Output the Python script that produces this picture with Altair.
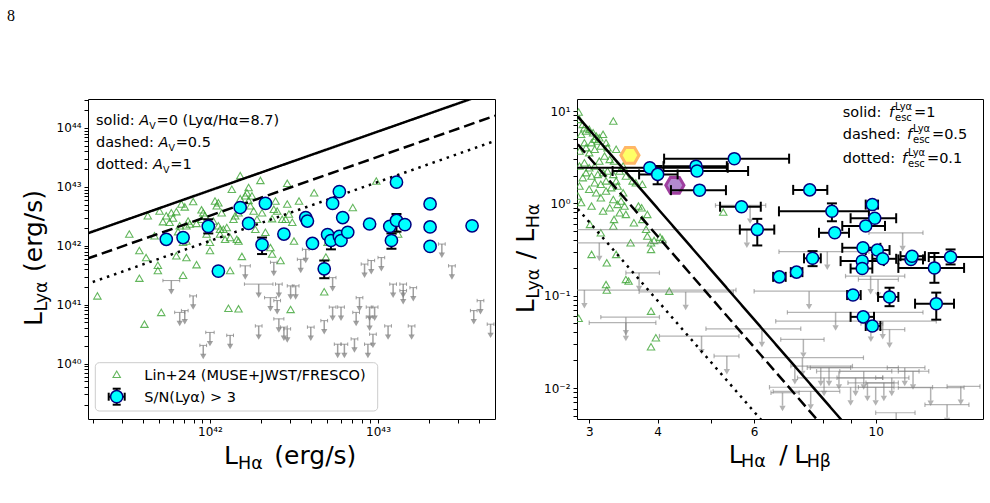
import altair as alt
import numpy as np
import pandas as pd

FONT = "DejaVu Sans"
CYAN = "#00ffff"
NAVY = "#000080"
GREEN = "#3da535"
GRAY = "#808080"

# ---------------------------------------------------------------------------
# Left panel: L(Lya) versus L(Ha), values are log10(L / erg s^-1)
# ---------------------------------------------------------------------------
# Lin+24 (MUSE+JWST/FRESCO) comparison sample
lin_lha_log = [41.33, 41.52, 41.58, 41.62, 41.58, 41.63, 41.67, 41.69, 41.69, 41.70,
               41.72, 41.74, 41.76, 41.77, 41.78, 41.80, 41.80, 41.81, 41.82, 41.83,
               41.84, 41.84, 41.85, 41.86, 41.86, 41.86, 41.87, 41.88, 41.90, 41.92,
               41.92, 41.95, 41.95, 41.96, 41.97, 41.98, 42.00, 42.00, 42.02, 42.03,
               42.04, 42.05, 42.05, 42.06, 42.06, 42.07, 42.08, 42.09, 42.10, 42.12,
               42.12, 42.13, 42.14, 42.15, 42.16, 42.17, 42.17, 42.18, 42.18, 42.19,
               42.21, 42.22, 42.23, 42.23, 42.24, 42.25, 42.26, 42.27, 42.28, 42.30,
               42.31, 42.32, 42.33, 42.36, 42.37, 42.37, 42.38, 42.39, 42.40, 42.42,
               42.43, 42.45, 42.46, 42.46, 42.47, 42.49, 42.50, 42.53, 42.62, 42.70,
               42.85, 42.99, 43.12, 42.68, 41.61, 41.71, 42.11, 42.17, 42.48, 42.69]
lin_llya_log = [41.15, 42.20, 41.92, 41.80, 41.45, 42.51, 42.17, 41.67, 41.58, 42.59,
                42.41, 42.51, 42.40, 42.56, 42.47, 42.58, 41.83, 42.24, 42.34, 42.71,
                42.06, 41.50, 42.66, 42.34, 42.08, 41.80, 42.42, 42.37, 42.75, 42.38,
                41.68, 42.61, 42.45, 42.56, 42.51, 42.20, 41.92, 42.06, 42.42, 42.76,
                42.68, 42.73, 42.34, 42.28, 42.20, 42.56, 42.28, 42.11, 42.31, 42.14,
                41.58, 42.96, 42.45, 42.51, 42.11, 42.56, 42.08, 42.80, 43.19, 41.82,
                42.85, 42.90, 42.77, 42.99, 42.68, 42.85, 42.59, 42.28, 42.45, 43.11,
                42.56, 42.73, 42.23, 41.97, 42.46, 41.86, 42.62, 42.76, 42.59, 41.75,
                42.45, 42.45, 43.06, 42.71, 42.54, 42.40, 42.08, 42.76, 42.90, 42.06,
                42.65, 43.10, 42.20, 41.22, 40.67, 40.87, 40.94, 40.93, 40.92, 41.81]

# Lya upper limits (S/N < 3)
ul_lha_log = [41.77, 41.90, 41.82, 41.85, 42.00, 41.96, 42.12, 42.21, 42.29, 42.36,
              42.41, 42.40, 42.41, 42.44, 42.46, 42.48, 42.51, 42.29, 42.38, 42.54,
              42.57, 42.60, 42.68, 42.73, 42.73, 42.78, 42.76, 42.80, 42.86, 42.87,
              42.89, 42.92, 42.96, 42.95, 42.95, 42.97, 42.94, 42.98, 43.02, 43.06,
              43.09, 43.15, 43.15, 43.21, 43.20, 43.38, 43.44, 43.57, 43.61, 43.67]
ul_llya_log = [41.41, 41.15, 40.87, 40.90, 40.53, 40.31, 40.48, 41.66, 41.35, 41.12,
               41.35, 41.07, 40.76, 40.62, 40.59, 41.32, 41.32, 40.64, 41.72, 41.77,
               41.94, 40.62, 40.73, 41.46, 40.96, 40.96, 40.33, 40.33, 40.42, 40.87,
               41.12, 41.69, 41.75, 40.96, 40.79, 40.50, 40.33, 40.96, 41.80, 40.64,
               41.35, 41.35, 41.24, 41.29, 40.64, 42.03, 41.66, 40.90, 41.07, 40.67]
ul_lha_err_dex = [0.05, 0.02, 0.03, 0.02, 0.025, 0.02, 0.02, 0.03, 0.085, 0.035,
                  0.02, 0.02, 0.03, 0.02, 0.02, 0.02, 0.02, 0.02, 0.02, 0.02,
                  0.02, 0.02, 0.02, 0.02, 0.02, 0.02, 0.02, 0.02, 0.02, 0.02,
                  0.02, 0.02, 0.02, 0.02, 0.02, 0.02, 0.02, 0.02, 0.02, 0.02,
                  0.02, 0.02, 0.02, 0.02, 0.02, 0.02, 0.02, 0.02, 0.02, 0.02]

# Lya detections, S/N(Lya) > 3
det_lha_log = [41.74, 41.84, 41.99, 42.18, 42.23, 42.33, 42.31, 42.05, 42.44, 42.57,
               42.58, 42.61, 42.70, 42.72, 42.68, 42.73, 42.77, 42.79, 42.77, 42.78,
               42.82, 42.95, 43.07, 43.11, 43.16, 43.08, 43.11, 43.31, 43.31, 43.31, 43.56]
det_llya_log = [42.11, 42.14, 42.33, 42.65, 42.38, 42.72, 42.02, 41.57, 42.20, 42.48,
                42.42, 42.04, 42.19, 42.09, 41.61, 42.72, 42.92, 42.48, 42.16, 42.09,
                42.23, 42.37, 42.33, 42.43, 42.36, 42.09, 43.08, 42.71, 42.32, 41.99, 42.34]
det_llya_err_lo = [0.04, 0.04, 0.12, 0.04, 0.04, 0.04, 0.16, 0.04, 0.04, 0.04,
                   0.04, 0.04, 0.04, 0.15, 0.16, 0.04, 0.04, 0.04, 0.04, 0.04,
                   0.04, 0.04, 0.04, 0.19, 0.04, 0.14, 0.04, 0.04, 0.04, 0.04, 0.04]
det_llya_err_hi = [0.04, 0.04, 0.12, 0.04, 0.04, 0.04, 0.12, 0.04, 0.04, 0.04,
                   0.04, 0.04, 0.04, 0.05, 0.14, 0.04, 0.04, 0.04, 0.04, 0.04,
                   0.04, 0.04, 0.04, 0.11, 0.04, 0.12, 0.04, 0.04, 0.04, 0.04, 0.04]

# ---------------------------------------------------------------------------
# Right panel: Lya/Ha versus the Balmer decrement Ha/Hb
# ---------------------------------------------------------------------------
lin_bd = [2.87, 2.88, 2.92, 2.94, 2.90, 2.96, 3.00, 3.05, 3.09, 3.07,
          3.13, 3.18, 3.11, 3.03, 2.94, 2.96, 2.88, 3.00, 3.07, 3.15,
          3.22, 3.24, 3.32, 3.36, 2.88, 2.94, 3.00, 3.07, 3.13, 3.20,
          3.27, 3.33, 2.96, 2.92, 3.03, 3.11, 3.18, 3.24, 3.32, 3.41,
          3.46, 3.50, 3.60, 3.65, 3.75, 3.07, 3.15, 3.22, 3.36, 3.00,
          3.09, 3.15, 3.22, 3.29, 3.38, 3.46, 3.32, 3.43, 3.48, 3.38,
          3.27, 3.03, 3.18, 3.41, 3.33, 3.50, 3.32, 3.01, 3.15, 3.62,
          3.69, 3.74, 3.83, 3.75, 3.81, 3.89, 3.89, 4.08, 3.57, 3.36,
          3.03, 3.50, 4.20, 5.27, 2.88, 2.86, 2.90,
          3.23, 3.83, 3.94, 4.04, 3.22, 3.23, 3.54, 2.87,
          3.89, 3.97, 3.89]
lin_ratio = [9.75, 8.12, 7.17, 6.59, 5.59, 6.07, 6.33, 5.82, 5.36, 4.94,
             5.14, 5.59, 4.73, 4.54, 4.54, 4.01, 3.69, 3.54, 3.85, 4.18,
             4.54, 4.01, 7.79, 3.85, 2.54, 2.75, 2.43, 2.54, 2.87, 3.25,
             2.99, 2.87, 2.15, 1.90, 1.98, 2.06, 2.15, 2.24, 2.06, 2.24,
             2.54, 1.98, 1.75, 1.67, 1.61, 1.67, 1.61, 1.75, 1.75, 1.42,
             1.30, 1.15, 1.36, 1.48, 1.54, 1.30, 1.10, 1.06, 0.935, 0.975,
             0.897, 0.935, 0.826, 0.792, 0.670, 0.759, 0.568, 0.592, 0.481, 0.617,
             0.935, 0.897, 0.759, 0.670, 0.523, 0.374, 0.317, 0.407, 0.374, 0.280,
             0.280, 0.150, 0.112, 0.805, 1.54, 1.20, 1.02,
             0.227, 0.442, 0.397, 0.431, 0.132, 0.115, 0.144, 0.057,
             0.068, 0.035, 0.028]

ul_bd = [3.13, 5.90, 5.82, 11.2, 8.16, 9.79, 10.1, 3.70, 2.94, 4.50,
         7.56, 3.50, 3.50, 4.81, 5.35, 6.20, 7.38, 6.76, 8.45, 10.3,
         10.6, 9.8, 7.12, 7.94, 8.22, 8.57, 8.05, 9.0, 9.19, 9.51,
         9.66, 10.0, 10.35, 10.7, 11.3, 11.7, 12.6, 13.5, 14.3, 7.61,
         10.9, 7.35]
ul_bd_lo = [2.60, 5.10, 2.50, 9.72, 6.66, 8.81, 9.3, 3.50, 2.50, 3.70,
            6.0, 3.15, 3.00, 4.03, 5.07, 4.90, 6.71, 6.44, 6.90, 6.57,
            9.9, 9.4, 7.0, 7.5, 7.6, 7.8, 7.2, 6.4, 8.5, 8.6,
            8.9, 9.3, 9.6, 10.0, 10.5, 11.0, 11.0, 12.3, 13.5, 6.5,
            10.0, 6.2]
ul_bd_hi = [4.14, 6.30, 6.00, 12.2, 9.72, 11.3, 11.0, 4.03, 5.56, 5.50,
            9.0, 4.03, 3.97, 5.63, 5.63, 7.30, 8.05, 7.25, 12.2, 12.9,
            11.3, 10.3, 9.07, 11.0, 9.0, 12.0, 10.3, 12.7, 10.3, 10.7,
            10.8, 10.8, 11.0, 11.5, 12.3, 12.5, 14.5, 14.8, 15.5, 8.6,
            11.8, 9.5]
ul_ratio = [0.374, 0.95, 0.52, 0.48, 0.30, 0.163, 0.150, 0.177, 0.115, 0.110,
            0.112, 0.0586, 0.051, 0.0365, 0.0222, 0.0438, 0.0336, 0.0089, 0.066, 0.053,
            0.043, 0.050, 0.0173, 0.0166, 0.0166, 0.0152, 0.0129, 0.0102, 0.0129, 0.0152,
            0.0114, 0.0102, 0.0114, 0.0129, 0.0166, 0.0152, 0.0101, 0.0066, 0.0104, 0.0092,
            0.0054, 0.0213]

det_bd = [3.87, 4.00, 4.70, 4.72, 4.77, 5.52, 5.69, 6.08, 7.58, 8.32,
          9.86, 9.96, 9.59, 8.42, 9.48, 10.07, 9.45, 9.45, 10.3, 11.6,
          11.65, 12.8, 13.7, 7.67, 7.17, 6.67, 9.09, 10.6, 12.9, 9.49, 9.86]
det_bd_lo = [2.55, 3.70, 4.10, 3.31, 4.23, 4.11, 5.20, 5.65, 7.07, 6.66,
             9.59, 9.00, 8.69, 7.88, 8.69, 9.59, 8.63, 9.00, 9.86, 11.0,
             11.1, 11.0, 12.5, 7.40, 7.00, 6.50, 8.87, 10.1, 11.8, 9.00, 9.59]
det_bd_hi = [5.37, 4.35, 5.35, 5.85, 5.33, 6.95, 6.17, 6.53, 8.16, 9.72,
             10.1, 10.9, 10.4, 8.94, 10.2, 10.6, 10.35, 9.86, 10.9, 12.2,
             12.3, 14.5, 15.9, 7.94, 7.35, 6.85, 9.39, 11.0, 13.9, 9.93, 10.2]
det_ratio = [2.43, 2.06, 2.53, 2.24, 1.39, 3.05, 0.92, 0.52, 1.40, 0.82,
             0.97, 0.69, 0.57, 0.48, 0.33, 0.312, 0.237, 0.197, 0.251, 0.247,
             0.268, 0.200, 0.262, 0.254, 0.180, 0.160, 0.1016, 0.097, 0.082, 0.059, 0.047]
det_ratio_lo = [2.30, 1.61, 2.40, 2.10, 1.32, 2.90, 0.87, 0.35, 1.33, 0.64,
                0.92, 0.66, 0.54, 0.46, 0.31, 0.295, 0.225, 0.187, 0.238, 0.235,
                0.255, 0.138, 0.218, 0.209, 0.171, 0.152, 0.096, 0.077, 0.055, 0.054, 0.043]
det_ratio_hi = [2.55, 2.54, 2.70, 2.40, 1.46, 3.20, 0.97, 0.68, 1.47, 1.00,
                1.02, 0.72, 0.60, 0.50, 0.35, 0.33, 0.25, 0.207, 0.264, 0.26,
                0.28, 0.29, 0.317, 0.304, 0.189, 0.168, 0.107, 0.122, 0.108, 0.064, 0.051]

# two individual sources shown as hexagons
hex_a_bd, hex_a_ratio = [3.56], [3.31]
hex_b_bd, hex_b_ratio = [4.30], [1.57]

# Case-B intrinsic ratios and Calzetti attenuation curve
LYA_HA_INTRINSIC = 8.7
BALMER_INTRINSIC = 2.86
K_LYA, K_HA, K_HB, R_V = 12.0, 3.33, 4.60, 4.05
AV_VALUES = [0.0, 0.5, 1.0]
FESC_VALUES = [1.0, 0.5, 0.1]
LINE_STYLES = ["solid", "dashed", "dotted"]

W_L, W_R, H = 407, 406, 320
SUP = "⁰¹²³⁴⁵⁶⁷⁸⁹"


def sup(n):
    return "".join(SUP[int(c)] if c.isdigit() else "⁻" for c in str(n))


def log_ticks(exps, lo, hi):
    vals = [float(f"{k}e{e}") for e in exps for k in range(1, 10)]
    return [v for v in vals if lo <= v <= hi]


def label_expr(mapping):
    parts = [f"datum.value == {v!r} ? '{t}'" for v, t in mapping.items()]
    return " : ".join(parts) + " : ''"


def make_axis(values, mapping, size):
    return alt.Axis(values=values, labelExpr=label_expr(mapping), title=None,
                    grid=False, domain=False, tickSize=4, tickColor="black",
                    labelColor="black", labelFont=FONT, labelFontSize=size,
                    labelPadding=3, labelOverlap=False, labelFlush=False)


# ---- scales and axes ----
XL_DOM = [1.88e41, 4.97e43]
YL_DOM = [1.15e39, 3.1e44]
XR_DOM = [2.85, 15.7]
YR_DOM = [0.00462, 13.5]

XS_L = alt.Scale(type="log", domain=XL_DOM, nice=False)
YS_L = alt.Scale(type="log", domain=YL_DOM, nice=False)
XS_R = alt.Scale(type="log", domain=XR_DOM, nice=False)
YS_R = alt.Scale(type="log", domain=YR_DOM, nice=False)

AX_L_X = make_axis(log_ticks(range(41, 44), *XL_DOM),
                   {float(f"1e{e}"): "10" + sup(e) for e in (42, 43)}, 12)
AX_L_Y = make_axis(log_ticks(range(39, 45), *YL_DOM),
                   {float(f"1e{e}"): "10" + sup(e) for e in range(40, 45)}, 12)
AX_R_X = make_axis([3.0, 4.0, 5.0, 6.0, 7.0, 8.0, 9.0, 10.0],
                   {3.0: "3", 4.0: "4", 6.0: "6", 10.0: "10"}, 12)
AX_R_Y = make_axis(log_ticks(range(-3, 2), *YR_DOM),
                   {float(f"1e{e}"): "10" + sup(e) for e in range(-2, 2)}, 12)


def XL(f="x"):
    return alt.X(f, type="quantitative", scale=XS_L, axis=AX_L_X)


def YL(f="y"):
    return alt.Y(f, type="quantitative", scale=YS_L, axis=AX_L_Y)


def XR(f="x"):
    return alt.X(f, type="quantitative", scale=XS_R, axis=AX_R_X)


def YR(f="y"):
    return alt.Y(f, type="quantitative", scale=YS_R, axis=AX_R_Y)


def piece(s, x, y, size=14.5, style="normal", angle=0, font=FONT):
    return alt.Chart(pd.DataFrame({"t": [s]})).mark_text(
        font=font, fontSize=size, fontStyle=style, angle=angle, align="left",
        baseline="alphabetic", color="black").encode(
        x=alt.value(x), y=alt.value(y), text=alt.Text("t:N"))


def upper_limits(df, X, Y, cap, head, width, opacity):
    base = alt.Chart(df)
    return [
        base.mark_rule(color=GRAY, strokeWidth=width, opacity=opacity, clip=True)
            .encode(x=X("xlo"), x2=alt.X2("xhi"), y=Y()),
        base.mark_point(shape="stroke", angle=90, size=cap, strokeWidth=width,
                        color=GRAY, opacity=opacity, clip=True).encode(x=X("xlo"), y=Y()),
        base.mark_point(shape="stroke", angle=90, size=cap, strokeWidth=width,
                        color=GRAY, opacity=opacity, clip=True).encode(x=X("xhi"), y=Y()),
        base.mark_rule(color=GRAY, strokeWidth=1.5, opacity=opacity, clip=True)
            .encode(x=X(), y=Y(), y2=alt.Y2("yshaft")),
        base.mark_point(shape="triangle-down", filled=True, size=head, color=GRAY,
                        opacity=opacity, clip=True).encode(x=X(), y=Y("yhead")),
    ]


def error_bars(df, X, Y, vertical, horizontal, cap):
    base = alt.Chart(df)
    out = []
    if horizontal:
        out += [
            base.mark_rule(color="black", strokeWidth=2, clip=True)
                .encode(x=X("xlo"), x2=alt.X2("xhi"), y=Y()),
            base.mark_point(shape="stroke", angle=90, size=cap, strokeWidth=2,
                            color="black", opacity=1, clip=True).encode(x=X("xlo"), y=Y()),
            base.mark_point(shape="stroke", angle=90, size=cap, strokeWidth=2,
                            color="black", opacity=1, clip=True).encode(x=X("xhi"), y=Y()),
        ]
    if vertical:
        out += [
            base.mark_rule(color="black", strokeWidth=2, clip=True)
                .encode(x=X(), y=Y("ylo"), y2=alt.Y2("yhi")),
            base.mark_point(shape="stroke", size=cap, strokeWidth=2,
                            color="black", opacity=1, clip=True).encode(x=X(), y=Y("ylo")),
            base.mark_point(shape="stroke", size=cap, strokeWidth=2,
                            color="black", opacity=1, clip=True).encode(x=X(), y=Y("yhi")),
        ]
    return out


dash_scale = alt.Scale(domain=LINE_STYLES, range=[[1, 0], [11, 5], [2.5, 5]])
TRI = dict(shape="triangle-up", filled=False, size=55, strokeWidth=1.1, color=GREEN, opacity=0.8)

# ---------------------------------------------------------------------------
# Left panel
# ---------------------------------------------------------------------------
lin_left = pd.DataFrame({"x": 10 ** np.array(lin_lha_log), "y": 10 ** np.array(lin_llya_log)})

lx, ly, ldex = np.array(ul_lha_log), np.array(ul_llya_log), np.array(ul_lha_err_dex)
ul_left = pd.DataFrame({"x": 10 ** lx, "xlo": 10 ** (lx - ldex), "xhi": 10 ** (lx + ldex),
                        "y": 10 ** ly, "yshaft": 10 ** (ly - 0.16), "yhead": 10 ** (ly - 0.19)})

dx, dy = np.array(det_lha_log), np.array(det_llya_log)
det_left = pd.DataFrame({"x": 10 ** dx, "y": 10 ** dy,
                         "ylo": 10 ** (dy - np.array(det_llya_err_lo)),
                         "yhi": 10 ** (dy + np.array(det_llya_err_hi))})

lum_grid = np.array([1.5e41, 6e43])
model_left = pd.concat([
    pd.DataFrame({"x": lum_grid,
                  "y": LYA_HA_INTRINSIC * lum_grid * 10 ** (-0.4 * (K_LYA - K_HA) / R_V * av),
                  "style": st})
    for av, st in zip(AV_VALUES, LINE_STYLES)])

left_layers = [
    alt.Chart(lin_left).mark_point(clip=True, **TRI).encode(x=XL(), y=YL()),
    *upper_limits(ul_left, XL, YL, cap=12, head=40, width=1, opacity=0.75),
    alt.Chart(model_left).mark_line(color="black", strokeWidth=2.5, clip=True).encode(
        x=XL(), y=YL(), detail="style:N",
        strokeDash=alt.StrokeDash("style:N", scale=dash_scale, legend=None)),
    *error_bars(det_left, XL, YL, vertical=True, horizontal=False, cap=100),
    alt.Chart(det_left).mark_circle(size=150, color=CYAN, stroke=NAVY, strokeWidth=1.5,
                                    opacity=1, clip=True).encode(x=XL(), y=YL()),
]

# annotation of the attenuation curves
ann_left = [
    piece("solid: ", 8, 26), piece("A", 51.3, 26, style="italic"),
    piece("V", 61.2, 29.5, size=9.5), piece("=0 (Lyα/Hα=8.7)", 68.5, 26),
    piece("dashed: ", 8, 48), piece("A", 70.5, 48, style="italic"),
    piece("V", 80.4, 51.5, size=9.5), piece("=0.5", 87.7, 48),
    piece("dotted: ", 8, 70.3), piece("A", 65.1, 70.3, style="italic"),
    piece("V", 75, 73.8, size=9.5), piece("=1", 82.3, 70.3),
]

one = pd.DataFrame({"a": [0]})
legend_left = [
    alt.Chart(one).mark_rect(fill="white", fillOpacity=0.85, stroke="#cccccc", strokeWidth=1,
                             cornerRadius=4).encode(
        x=alt.value(7.3), x2=alt.value(289.7), y=alt.value(263.7), y2=alt.value(312)),
    alt.Chart(one).mark_point(**TRI).encode(x=alt.value(28.7), y=alt.value(275.3)),
    alt.Chart(one).mark_rule(color="black", strokeWidth=2).encode(
        x=alt.value(20.7), x2=alt.value(36.7), y=alt.value(297.7)),
    alt.Chart(one).mark_rule(color="black", strokeWidth=2).encode(
        x=alt.value(28.7), y=alt.value(289.7), y2=alt.value(305.7)),
    alt.Chart(one).mark_point(shape="stroke", angle=90, size=64, strokeWidth=2, color="black",
                              opacity=1).encode(x=alt.value(20.7), y=alt.value(297.7)),
    alt.Chart(one).mark_point(shape="stroke", angle=90, size=64, strokeWidth=2, color="black",
                              opacity=1).encode(x=alt.value(36.7), y=alt.value(297.7)),
    alt.Chart(one).mark_point(shape="stroke", size=64, strokeWidth=2, color="black",
                              opacity=1).encode(x=alt.value(28.7), y=alt.value(289.7)),
    alt.Chart(one).mark_point(shape="stroke", size=64, strokeWidth=2, color="black",
                              opacity=1).encode(x=alt.value(28.7), y=alt.value(305.7)),
    alt.Chart(one).mark_circle(size=150, color=CYAN, stroke=NAVY, strokeWidth=1.5,
                               opacity=1).encode(x=alt.value(28.7), y=alt.value(297.7)),
    piece("Lin+24 (MUSE+JWST/FRESCO)", 56.3, 281),
    piece("S/N(Lyα) > 3", 56.3, 302.7),
]

titles_left = [
    piece("L", 136, 365.3, size=25), piece("Hα", 150, 369.5, size=17.5),
    piece("(erg/s)", 186.3, 365.3, size=25),
    piece("L", -46, 227, size=25, angle=270), piece("Lyα", -41, 212.5, size=17.5, angle=270),
    piece("(erg/s)", -46, 173, size=25, angle=270),
    piece("8", -81, -78, size=16, font="Liberation Serif"),
    # transparent anchor fixing the page origin
    alt.Chart(one).mark_rule(strokeWidth=0.01, opacity=0).encode(
        x=alt.value(-87), x2=alt.value(-86.9), y=alt.value(-98), y2=alt.value(-98)),
]

left = alt.layer(*left_layers, *ann_left, *legend_left, *titles_left).properties(
    width=W_L, height=H)

# ---------------------------------------------------------------------------
# Right panel
# ---------------------------------------------------------------------------
lin_right = pd.DataFrame({"x": lin_bd, "y": lin_ratio})

ur = np.array(ul_ratio)
ul_right = pd.DataFrame({"x": ul_bd, "xlo": ul_bd_lo, "xhi": ul_bd_hi, "y": ur,
                         "yshaft": ur * 10 ** -0.14, "yhead": ur * 10 ** -0.17})

det_right = pd.DataFrame({"x": det_bd, "xlo": det_bd_lo, "xhi": det_bd_hi,
                          "y": det_ratio, "ylo": det_ratio_lo, "yhi": det_ratio_hi})

bd_grid = np.array([BALMER_INTRINSIC, 12.0])
slope = (K_LYA - K_HA) / (K_HB - K_HA)
model_right = pd.concat([
    pd.DataFrame({"x": bd_grid,
                  "y": f * LYA_HA_INTRINSIC * (bd_grid / BALMER_INTRINSIC) ** (-slope),
                  "style": st})
    for f, st in zip(FESC_VALUES, LINE_STYLES)])

HEX = "M-1,0L-0.5,-0.866L0.5,-0.866L1,0L0.5,0.866L-0.5,0.866Z"

right_layers = [
    alt.Chart(lin_right).mark_point(clip=True, **TRI).encode(x=XR(), y=YR()),
    *upper_limits(ul_right, XR, YR, cap=20, head=40, width=1.2, opacity=0.6),
    alt.Chart(model_right).mark_line(color="black", strokeWidth=2.5, clip=True).encode(
        x=XR(), y=YR(), detail="style:N",
        strokeDash=alt.StrokeDash("style:N", scale=dash_scale, legend=None)),
    alt.Chart(pd.DataFrame({"x": hex_a_bd, "y": hex_a_ratio})).mark_point(
        shape=HEX, size=330, filled=True, fill="#ffff33", stroke="#ff9f33", strokeWidth=3,
        opacity=0.75, clip=True).encode(x=XR(), y=YR()),
    alt.Chart(pd.DataFrame({"x": hex_b_bd, "y": hex_b_ratio})).mark_point(
        shape=HEX, size=330, filled=True, fill="#9a62c0", stroke="#800080", strokeWidth=3,
        opacity=0.75, clip=True).encode(x=XR(), y=YR()),
    *error_bars(det_right, XR, YR, vertical=True, horizontal=True, cap=100),
    alt.Chart(det_right).mark_circle(size=145, color=CYAN, stroke=NAVY, strokeWidth=1.5,
                                     opacity=1, clip=True).encode(x=XR(), y=YR()),
]

ann_right = [
    piece("solid: ", 265.7, 17.7), piece("f", 312, 17.7, style="italic"),
    piece("Lyα", 318, 10.7, size=10), piece("esc", 318, 21.7, size=10), piece("=1", 337, 17.7),
    piece("dashed: ", 265.7, 40.3), piece("f", 330, 40.3, style="italic"),
    piece("Lyα", 336, 33.3, size=10), piece("esc", 336, 44.3, size=10), piece("=0.5", 355, 40.3),
    piece("dotted: ", 265.7, 63.7), piece("f", 325, 63.7, style="italic"),
    piece("Lyα", 331, 56.7, size=10), piece("esc", 331, 67.7, size=10), piece("=0.1", 350, 63.7),
]

titles_right = [
    piece("L", 151.7, 363.7, size=25), piece("Hα", 164, 368, size=17.5),
    piece("/", 202.3, 363.7, size=25),
    piece("L", 217.3, 363.7, size=25), piece("Hβ", 229.7, 368, size=17.5),
    piece("L", -43, 214.2, size=25, angle=270), piece("Lyα", -38, 199.7, size=17.5, angle=270),
    piece("/", -43, 160.2, size=25, angle=270),
    piece("L", -43, 143.8, size=25, angle=270), piece("Hα", -38, 129.3, size=17.5, angle=270),
]

right = alt.layer(*right_layers, *ann_right, *titles_right).properties(width=W_R, height=H)

chart = (
    alt.hconcat(left, right, spacing=82, bounds="flush")
    .properties(padding=0, background="white")
    .configure_view(stroke="black", strokeWidth=1)
)

chart.save("out.html", embed_options={"renderer": "svg", "actions": False})
